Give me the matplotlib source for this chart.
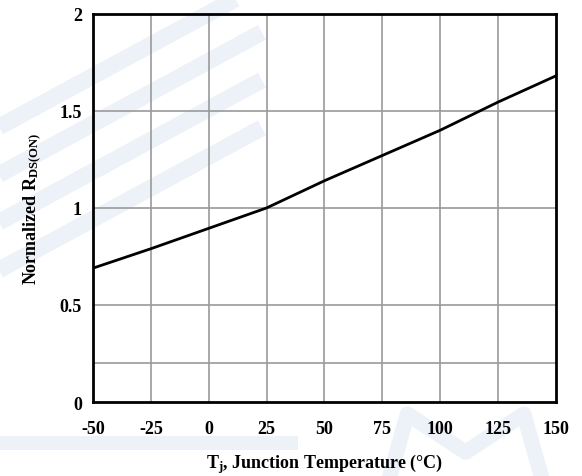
import numpy as np
import matplotlib
matplotlib.use("Agg")
import matplotlib.pyplot as plt
from matplotlib.lines import Line2D

# Normalized on-resistance vs junction temperature
temps = [-50, -25, 0, 25, 50, 75, 100, 125, 150]
rds_norm = [0.69, 0.79, 0.895, 1.0, 1.14, 1.27, 1.40, 1.545, 1.68]

x_ticks = [-50, -25, 0, 25, 50, 75, 100, 125, 150]
y_ticks = [0, 0.5, 1, 1.5, 2]
y_tick_labels = ["0", "0.5", "1", "1.5", "2"]
y_grid = [0.2, 0.5, 1, 1.5]

plt.rcParams['font.family'] = ['Liberation Serif', 'DejaVu Serif']
plt.rcParams['font.weight'] = 'bold'
plt.rcParams['axes.unicode_minus'] = False
plt.rcParams['mathtext.fontset'] = 'custom'
plt.rcParams['mathtext.rm'] = 'Liberation Serif:bold'
plt.rcParams['mathtext.it'] = 'Liberation Serif:bold'
plt.rcParams['mathtext.bf'] = 'Liberation Serif:bold'

fig = plt.figure(figsize=(5.82, 4.77), dpi=100)

# faint watermark stripes in the background
wm = "#dfe7f3"
for off in [0.0, 0.1, 0.2, 0.3]:
    fig.add_artist(Line2D([-0.05, 0.45], [0.70 - off, 1.03 - off], color=wm,
                          lw=12, alpha=0.55, zorder=0, solid_capstyle="butt"))
fig.add_artist(Line2D([0.0, 0.5], [0.07, 0.07], color=wm, lw=10, alpha=0.55, zorder=0))
fig.add_artist(Line2D([0.67, 0.70, 0.80, 0.90, 0.93], [0.0, 0.13, 0.05, 0.13, 0.0],
                      color=wm, lw=11, alpha=0.55, zorder=0, solid_joinstyle="round"))

ax = fig.add_axes([0.16, 0.155, 0.795, 0.814])
ax.set_facecolor("none")

# Grid lines
for xv in x_ticks[1:-1]:
    ax.axvline(xv, color="#9a9a9a", lw=1.2, zorder=1)
for yv in y_grid:
    ax.axhline(yv, color="#9a9a9a", lw=1.2, zorder=1)

ax.plot(temps, rds_norm, color="black", lw=2, zorder=3)

ax.set_xlim(-50, 150)
ax.set_ylim(0, 2)
ax.set_xticks(x_ticks)
ax.set_yticks(y_ticks)
ax.set_yticklabels(y_tick_labels)
ax.tick_params(axis="x", length=0, pad=13, labelsize=13)
ax.tick_params(axis="y", length=0, pad=8, labelsize=13)
for lab in ax.get_xticklabels() + ax.get_yticklabels():
    lab.set_fontweight("bold")

for sp in ax.spines.values():
    sp.set_linewidth(2)
    sp.set_color("black")

ax.set_xlabel(r"T$_\mathrm{j}$, Junction Temperature (°C)", fontsize=13,
              fontweight="bold", labelpad=10)
ax.set_ylabel(r"Normalized R$_\mathrm{DS(ON)}$", fontsize=13,
              fontweight="bold", labelpad=12)

fig.savefig("out.png", dpi=100)
